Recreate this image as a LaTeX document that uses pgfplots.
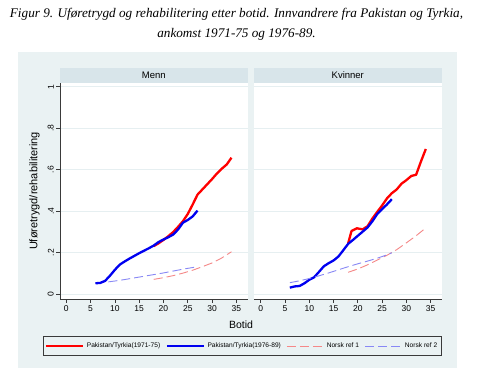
\documentclass[border=0pt]{standalone}
\usepackage{pgfplots}
\pgfplotsset{compat=1.18}
\usepackage{fontspec}
\setmainfont{Liberation Sans}
\newfontfamily\titlefont{Liberation Serif}
\definecolor{bgc}{HTML}{EAF2F3}
\definecolor{hdr}{HTML}{D8E5EA}
\definecolor{gridc}{HTML}{E6EFF1}
\definecolor{axc}{HTML}{3A3A3A}
\definecolor{sred}{HTML}{FF0000}
\definecolor{sblue}{HTML}{0000F0}
\definecolor{dred}{HTML}{F58888}
\definecolor{dblue}{HTML}{8888F5}

\pgfplotsset{
  panel/.style={
    scale only axis, width=188pt, height=216pt,
    anchor=south west,
    xmin=-1.3, xmax=37.4, ymin=-0.0226, ymax=1.018,
    axis background/.style={fill=white},
    xtick={0,5,10,15,20,25,30,35},
    xticklabels={0,5,10,15,20,25,30,35},
    ytick={0,0.2,0.4,0.6,0.8,1},
    ymajorgrids,
    major grid style={gridc, line width=0.9pt},
    axis x line*=bottom, axis y line*=left,
    axis line style={axc, line width=0.7pt, -},
    tick align=outside, major tick length=4pt,
    tick style={axc, line width=0.7pt},
    xticklabel style={font=\fontsize{8.5}{10}\selectfont, inner sep=2pt},
    clip=false,
  },
  redsolid/.style={sred, line width=2.3pt, line join=round},
  bluesolid/.style={sblue, line width=2.3pt, line join=round},
  reddash/.style={dred, line width=0.9pt, dash pattern=on 9pt off 4pt},
  bluedash/.style={dblue, line width=0.9pt, dash pattern=on 9pt off 4pt},
}

\begin{document}
\begin{tikzpicture}
\useasboundingbox (0pt,0pt) rectangle (488pt,385pt);
\fill[bgc] (18pt,17pt) rectangle (457pt,333pt);
\fill[hdr] (60pt,302pt) rectangle (247.5pt,317pt);
\fill[hdr] (254pt,302pt) rectangle (441.7pt,317pt);
\node[font=\fontsize{9.5}{11}\selectfont] at (153.8pt,309.5pt) {Menn};
\node[font=\fontsize{9.5}{11}\selectfont] at (347.8pt,309.5pt) {Kvinner};
\node[font=\titlefont\itshape\fontsize{13.2}{15}\selectfont] at (236.5pt,371pt)
  {Figur 9. Uføretrygd og rehabilitering etter botid. Innvandrere fra Pakistan og Tyrkia,};
\node[font=\titlefont\itshape\fontsize{13.2}{15}\selectfont] at (236.5pt,351pt)
  {ankomst 1971-75 og 1976-89.};
\node[font=\fontsize{10.5}{12}\selectfont] at (241pt,60pt) {Botid};

% Left panel: Menn
\begin{axis}[panel, at={(60pt,86pt)},
  yticklabels={0,.2,.4,.6,.8,1},
  yticklabel style={rotate=90, anchor=south, font=\fontsize{8.5}{10}\selectfont, inner sep=2pt},
  ylabel={Uføretrygd/rehabilitering},
  ylabel style={at={(axis description cs:-0.135,0.5)}, anchor=center, rotate=0, font=\fontsize{11}{13}\selectfont},
]
\addplot[reddash] coordinates {(18,0.072) (20,0.080) (22,0.090) (24,0.102) (26,0.116) (28,0.133) (30,0.151) (32,0.175) (34,0.205)};
\addplot[bluedash] coordinates {(6,0.053) (8,0.058) (10,0.064) (12,0.071) (14,0.079) (16,0.087) (18,0.095) (20,0.103) (22,0.112) (24,0.121) (26,0.129) (27,0.133)};
\addplot[redsolid] coordinates {(18,0.232) (19,0.246) (20,0.262) (21,0.280) (22,0.300) (23,0.325) (24,0.352) (25,0.387) (26,0.432) (27,0.480) (28,0.505) (29,0.530) (30,0.555) (31,0.582) (32,0.605) (33,0.625) (34,0.658)};
\addplot[bluesolid] coordinates {(6,0.053) (7,0.055) (8,0.065) (9,0.090) (10,0.118) (11,0.143) (12,0.158) (13,0.172) (14,0.185) (15,0.198) (16,0.210) (17,0.222) (18,0.235) (19,0.252) (20,0.264) (21,0.275) (22,0.288) (23,0.312) (24,0.345) (25,0.358) (26,0.375) (27,0.403)};
\end{axis}

% Right panel: Kvinner
\begin{axis}[panel, at={(254pt,86pt)}, width=187.7pt,
  xmin=-1.38, xmax=37.27,
  yticklabels={},
  y axis line style={draw=none},
  ytick style={draw=none},
  legend columns=4,
  legend cell align=left,
  legend style={at={(-0.0618,-0.2176)}, anchor=center,
    draw=axc, line width=0.6pt, fill=bgc,
    font=\fontsize{6.6}{8}\selectfont,
    inner xsep=2pt, inner ysep=5.5pt,
    nodes={inner xsep=2.5pt, inner ysep=1pt},
    /tikz/every even column/.append style={column sep=3pt}},
  legend image code/.code={\draw[#1] (0pt,0pt) -- (37pt,0pt);},
]
\addplot[redsolid] coordinates {(18,0.245) (18.7,0.305) (19.8,0.318) (21,0.313) (22,0.328) (23,0.365) (24,0.397) (25,0.428) (26,0.462) (27,0.487) (28,0.505) (29,0.533) (30,0.550) (31,0.570) (32,0.576) (33,0.640) (34,0.700)};
\addlegendentry{Pakistan/Tyrkia(1971-75)}
\addplot[bluesolid] coordinates {(6,0.032) (7,0.038) (8,0.040) (9,0.053) (10,0.070) (11,0.082) (12,0.108) (13,0.135) (14,0.150) (15,0.163) (16,0.182) (17,0.212) (18,0.243) (19,0.262) (20,0.282) (21,0.302) (22,0.322) (23,0.352) (24,0.387) (25,0.410) (26,0.433) (27,0.458)};
\addlegendentry{Pakistan/Tyrkia(1976-89)}
\addplot[reddash] coordinates {(18,0.106) (20,0.122) (22,0.142) (24,0.165) (26,0.188) (28,0.215) (30,0.248) (32,0.282) (34,0.320)};
\addlegendentry{Norsk ref 1}
\addplot[bluedash] coordinates {(6,0.056) (8,0.065) (10,0.076) (12,0.089) (14,0.103) (16,0.118) (18,0.133) (20,0.147) (22,0.160) (24,0.174) (26,0.190) (27,0.200)};
\addlegendentry{Norsk ref 2}
\end{axis}
\end{tikzpicture}
\end{document}
